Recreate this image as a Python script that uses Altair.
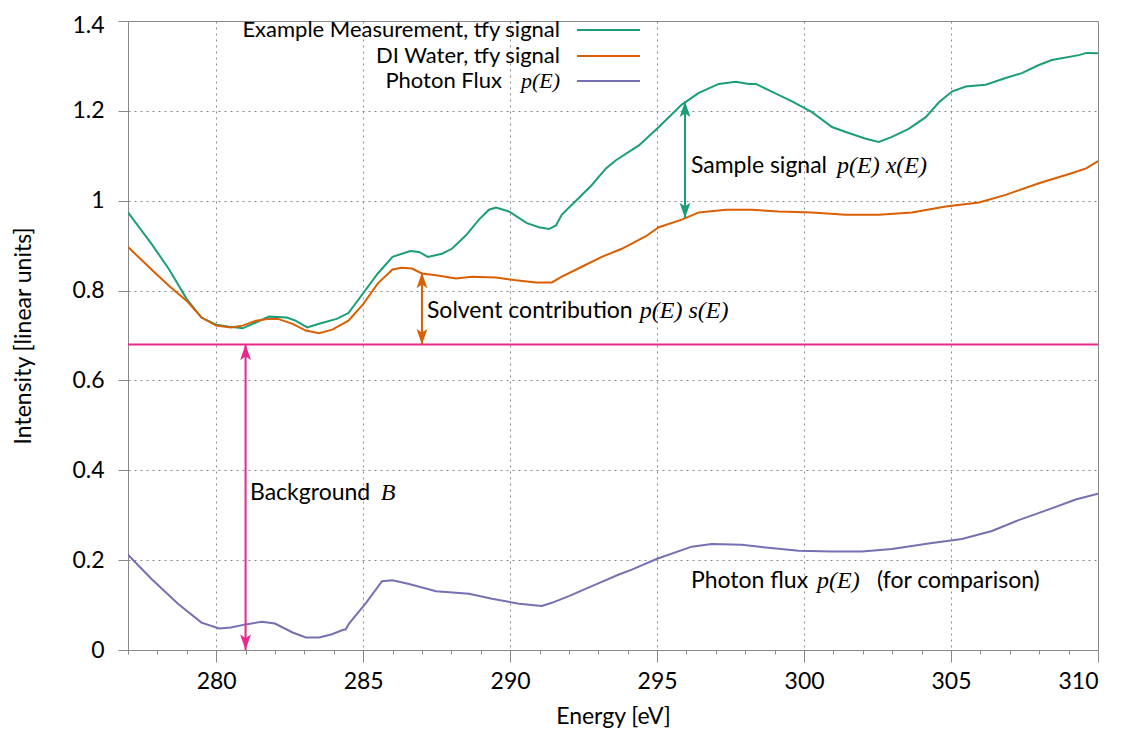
import altair as alt
import pandas as pd

# ---------------- data ----------------
sample_e = [277.0, 277.8, 278.4, 279.0, 279.5, 280.0, 280.4, 280.9, 281.35, 281.8, 282.4, 282.7,
            283.1, 283.5, 284.1, 284.5, 285.0, 285.5, 286.0, 286.6, 286.9, 287.2, 287.68, 288.02,
            288.5, 288.94, 289.28, 289.52, 289.96, 290.57, 290.98, 291.32, 291.56, 291.76, 292.24,
            292.78, 293.26, 293.6, 294.38, 295.06, 295.84, 296.42, 297.1, 297.68, 298.12, 298.36,
            298.9, 299.59, 300.27, 300.95, 301.42, 302.1, 302.54, 302.99, 303.56, 304.14, 304.59,
            305.03, 305.5, 306.18, 306.86, 307.41, 307.99, 308.43, 309.35, 309.6, 310.0]
sample_v = [0.974, 0.904, 0.847, 0.781, 0.740, 0.724, 0.720, 0.716, 0.729, 0.742, 0.740, 0.733,
            0.718, 0.726, 0.737, 0.750, 0.794, 0.838, 0.875, 0.888, 0.886, 0.875, 0.882, 0.893,
            0.923, 0.958, 0.980, 0.985, 0.976, 0.950, 0.941, 0.937, 0.945, 0.969, 1.000,
            1.035, 1.072, 1.090, 1.123, 1.164, 1.214, 1.240, 1.260, 1.265, 1.260, 1.260,
            1.243, 1.221, 1.197, 1.164, 1.153, 1.138, 1.131, 1.142, 1.160, 1.186, 1.219,
            1.243, 1.254, 1.258, 1.273, 1.284, 1.302, 1.313, 1.324, 1.329, 1.328]

water_e = [277.0, 277.8, 278.4, 279.0, 279.5, 280.0, 280.5, 280.9, 281.35, 281.8, 282.1, 282.6,
           283.05, 283.5, 283.95, 284.5, 285.0, 285.5, 286.0, 286.3, 286.66, 287.0, 287.48, 288.16,
           288.7, 289.52, 290.2, 290.88, 291.42, 291.76, 292.44, 293.12, 293.8, 294.62, 295.06,
           295.84, 296.42, 297.34, 298.22, 299.14, 300.27, 301.42, 302.54, 303.67, 304.82, 305.95,
           306.86, 307.99, 309.1, 309.6, 310.0]
water_v = [0.897, 0.847, 0.810, 0.777, 0.740, 0.722, 0.718, 0.722, 0.733, 0.737, 0.737, 0.726,
           0.711, 0.705, 0.713, 0.733, 0.770, 0.816, 0.847, 0.851, 0.849, 0.838, 0.834, 0.827,
           0.831, 0.829, 0.823, 0.818, 0.818, 0.831, 0.853, 0.875, 0.893, 0.921, 0.941,
           0.958, 0.974, 0.980, 0.980, 0.976, 0.974, 0.969, 0.969, 0.974, 0.987, 0.996,
           1.013, 1.039, 1.061, 1.072, 1.088]

flux_e = [277.0, 277.8, 278.7, 279.5, 280.1, 280.5, 281.0, 281.55, 282.0, 282.6, 283.05, 283.5,
          283.94, 284.28, 284.41, 284.52, 285.1, 285.64, 286.0, 286.56, 287.48, 288.6, 289.38,
          290.3, 291.08, 291.42, 292.0, 292.78, 293.02, 293.7, 294.14, 295.0, 296.18, 296.86,
          297.88, 298.7, 299.82, 300.95, 301.97, 302.99, 304.35, 305.37, 306.39, 307.3, 308.33,
          309.24, 310.0]
flux_v = [0.212, 0.158, 0.103, 0.061, 0.048, 0.050, 0.057, 0.063, 0.059, 0.039, 0.028, 0.028,
          0.035, 0.044, 0.046, 0.059, 0.105, 0.153, 0.155, 0.147, 0.131, 0.125, 0.114,
          0.103, 0.098, 0.105, 0.120, 0.142, 0.149, 0.168, 0.179, 0.203, 0.230, 0.236,
          0.234, 0.228, 0.221, 0.219, 0.219, 0.225, 0.238, 0.247, 0.265, 0.289, 0.313,
          0.335, 0.348]

series_names = ["Example Measurement, tfy signal", "DI Water, tfy signal", "Photon Flux"]
series_colors = ["#1b9e77", "#d95f02", "#7570b3"]
background_level = 0.68
pink = "#e7298a"

# annotation arrows
arrow_x = [281.0, 287.0, 295.95]
arrow_lo = [0.0, 0.68, 0.961]
arrow_hi = [0.68, 0.84, 1.221]
arrow_col = [pink, "#d95f02", "#1b9e77"]

# annotation texts (plain part and math part)
ann_text = ["Background", "Solvent contribution", "Sample signal", "Photon flux", "(for comparison)"]
ann_x = [281.15, 287.17, 296.15, 296.15, 302.48]
ann_y = [0.35, 0.755, 1.077, 0.153, 0.153]
math_text = ["B", "p(E) s(E)", "p(E) x(E)", "p(E)"]
math_x = [285.6, 294.41, 301.12, 300.44]
math_y = [0.35, 0.755, 1.077, 0.153]

x_ticks = list(range(277, 311))
y_ticks = [0, 0.2, 0.4, 0.6, 0.8, 1.0, 1.2, 1.4]

FONT = "Lato"
MATH_FONT = "Liberation Serif"
FS = 23
MFS = 24
LFS = 22

# ---------------- build tables ----------------
lines_df = pd.concat([
    pd.DataFrame({"E": sample_e, "I": sample_v, "series": series_names[0]}),
    pd.DataFrame({"E": water_e, "I": water_v, "series": series_names[1]}),
    pd.DataFrame({"E": flux_e, "I": flux_v, "series": series_names[2]}),
])

xscale = alt.Scale(domain=[277, 310], nice=False, zero=False)
yscale = alt.Scale(domain=[0, 1.4], nice=False)

x_axis = alt.Axis(
    values=x_ticks,
    labelExpr="datum.value % 5 === 0 ? datum.label : ''",
    labelOverlap=False,
    tickSize={"condition": {"test": "datum.value % 5 === 0", "value": 12}, "value": 4},
    gridOpacity={"condition": {"test": "datum.value % 5 === 0 && datum.value > 277 && datum.value < 310",
                               "value": 1}, "value": 0},
    grid=True, gridDash=[2, 4], gridColor="#888", gridWidth=1,
    title="Energy [eV]", titlePadding=12, labelPadding=8,
    domainColor="#888", tickColor="#888",
)
y_axis = alt.Axis(
    values=y_ticks, format="~g",
    tickSize=10, labelOverlap=False,
    labelOffset={"condition": {"test": "datum.value > 1.39", "value": 4}, "value": 0},
    gridOpacity={"condition": {"test": "datum.value > 0.01 && datum.value < 1.39", "value": 1}, "value": 0},
    grid=True, gridDash=[2, 4], gridColor="#888", gridWidth=1,
    title="Intensity [linear units]", titlePadding=36, labelPadding=14,
    domainColor="#888", tickColor="#888",
)

def X(field):
    return alt.X(field, type="quantitative", scale=xscale, axis=x_axis)

def Y(field):
    return alt.Y(field, type="quantitative", scale=yscale, axis=y_axis)

lines = alt.Chart(lines_df).mark_line(strokeWidth=2, clip=True).encode(
    x=X("E"), y=Y("I"),
    color=alt.Color("series:N", scale=alt.Scale(domain=series_names, range=series_colors), legend=None),
    order="E:Q",
)

bg = alt.Chart(pd.DataFrame({"B": [background_level]})).mark_rule(color=pink, strokeWidth=2).encode(
    y=Y("B")
)

arrows_df = pd.DataFrame({"x": arrow_x, "lo": arrow_lo, "hi": arrow_hi, "c": arrow_col})
arrow_lines = alt.Chart(arrows_df).mark_rule(strokeWidth=2).encode(
    x=X("x"), y=Y("lo"), y2="hi:Q",
    color=alt.Color("c:N", scale=None),
)
up_head = "M0,0 L-0.9,2.6 L0,2.0 L0.9,2.6 Z"
down_head = "M0,0 L-0.9,-2.6 L0,-2.0 L0.9,-2.6 Z"
heads_top = alt.Chart(arrows_df).mark_point(shape=up_head, filled=True, size=144, opacity=1, strokeWidth=0).encode(
    x=X("x"), y=Y("hi"), color=alt.Color("c:N", scale=None),
)
heads_bot = alt.Chart(arrows_df).mark_point(shape=down_head, filled=True, size=144, opacity=1, strokeWidth=0).encode(
    x=X("x"), y=Y("lo"), color=alt.Color("c:N", scale=None),
)

ann_df = pd.DataFrame({"t": ann_text, "x": ann_x, "y": ann_y})
ann = alt.Chart(ann_df).mark_text(align="left", baseline="middle", font=FONT, fontSize=FS, color="black").encode(
    x=X("x"), y=Y("y"), text="t:N"
)
math_df = pd.DataFrame({"t": math_text, "x": math_x, "y": math_y})
math = alt.Chart(math_df).mark_text(align="left", baseline="middle", font=MATH_FONT, fontStyle="italic",
                                    fontSize=MFS, color="black").encode(
    x=X("x"), y=Y("y"), text="t:N"
)

# ---------------- manual legend (pixel positions inside plot area) ----------------
leg_labels = ["Example Measurement, tfy signal", "DI Water, tfy signal", "Photon Flux"]
leg_df = pd.DataFrame({
    "t": leg_labels, "c": series_colors,
    "tx": [432, 432, 374], "py": [9, 35, 60],
    "x1": [449, 449, 449], "x2": [512, 512, 512],
})
leg_text = alt.Chart(leg_df).mark_text(align="right", baseline="middle", font=FONT, fontSize=LFS, color="black").encode(
    x=alt.X("tx:Q", scale=None), y=alt.Y("py:Q", scale=None), text="t:N"
)
leg_math = alt.Chart(pd.DataFrame({"t": ["p(E)"], "tx": [432], "py": [60]})).mark_text(
    align="right", baseline="middle", font=MATH_FONT, fontStyle="italic", fontSize=LFS, color="black").encode(
    x=alt.X("tx:Q", scale=None), y=alt.Y("py:Q", scale=None), text="t:N"
)
leg_lines = alt.Chart(leg_df).mark_rule(strokeWidth=2).encode(
    x=alt.X("x1:Q", scale=None), x2="x2:Q", y=alt.Y("py:Q", scale=None),
    color=alt.Color("c:N", scale=None),
)

chart = alt.layer(
    lines, bg, arrow_lines, heads_top, heads_bot, ann, math, leg_text, leg_math, leg_lines
).properties(
    width=970, height=629,
    autosize=alt.AutoSizeParams(type="none"),
    padding={"left": 120, "top": 13, "right": 20, "bottom": 82},
).configure_view(
    stroke="#888", strokeWidth=1
).configure_axis(
    labelFont=FONT, labelFontSize=FS, labelColor="black", labelOverlap=False,
    titleFont=FONT, titleFontSize=FS, titleColor="black", titleFontWeight="normal",
)

chart.save("out.html", embed_options={"renderer": "svg", "actions": False})
